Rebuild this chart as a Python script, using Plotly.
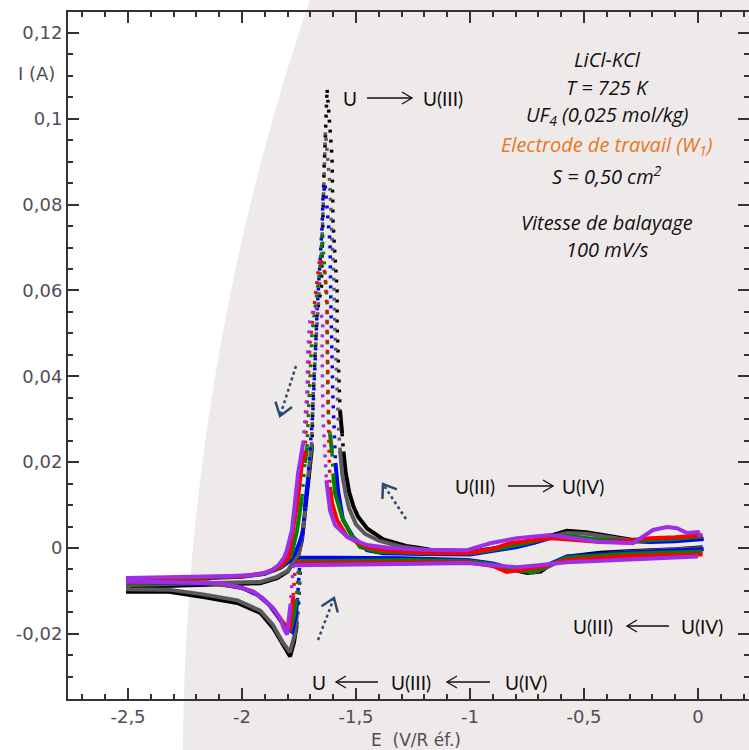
import math
import plotly.graph_objects as go

# ---------------------------------------------------------------
# Cyclic voltammograms of UF4 in LiCl-KCl (E in V vs ref., I in A)
# Each loop: cathodic scan from ~0 V to -2.5 V, then back to ~0 V.
# ---------------------------------------------------------------
BLACK_E = [0.02, -0.1, -0.285, -0.43, -0.575, -0.65, -0.69, -0.75, -0.81, -0.9, -1.01, -1.3, -1.6, -1.742,
           -1.746, -1.752, -1.76, -1.772, -1.789,
           -1.82, -1.864, -1.92, -2.02, -2.17, -2.32, -2.5,
           -2.5, -2.3, -2.1, -1.92, -1.846, -1.80, -1.776, -1.754, -1.737, -1.724,
           -1.711, -1.693, -1.689, -1.68, -1.671, -1.652, -1.649, -1.645, -1.64, -1.636, -1.632, -1.627,
           -1.605, -1.601, -1.592, -1.583, -1.583, -1.579, -1.575, -1.57, -1.561, -1.555,
           -1.545, -1.53, -1.51, -1.49, -1.45, -1.38, -1.28, -1.22, -1.13, -1.0, -0.87, -0.72, -0.65,
           -0.575, -0.49, -0.37, -0.285, -0.14, 0.018]
BLACK_I = [0.0002, -0.0003, -0.0007, -0.0011, -0.002, -0.004, -0.0055, -0.0058, -0.0051, -0.004, -0.0032, -0.0028, -0.003, -0.0032,
           -0.008, -0.013, -0.018, -0.022, -0.0253,
           -0.0226, -0.0186, -0.0151, -0.0128, -0.0114, -0.0102, -0.0102,
           -0.009, -0.0088, -0.0086, -0.0082, -0.007, -0.0055, -0.0035, -0.002, 0.0019, 0.0081,
           0.0158, 0.0235, 0.0344, 0.0444, 0.0547, 0.0607, 0.07, 0.08, 0.0886, 0.0933, 0.0988, 0.107,
           0.091, 0.0763, 0.0677, 0.06, 0.0519, 0.0449, 0.039, 0.032, 0.0267, 0.0225,
           0.0175, 0.013, 0.0095, 0.0072, 0.0045, 0.002, 0.0005, 0.0, -0.0008, -0.0009, 0.0002, 0.0014, 0.0028,
           0.004, 0.0037, 0.0026, 0.0019, 0.0019, 0.0028]

GRAY_E = [0.02, -0.285, -0.575, -0.65, -0.72, -0.81, -0.9, -1.01, -1.3, -1.6, -1.744,
          -1.75, -1.758, -1.768, -1.79,
          -1.823, -1.866, -1.92, -2.02, -2.17, -2.32, -2.5,
          -2.5, -2.3, -2.1, -1.92, -1.85, -1.80, -1.775, -1.752, -1.737, -1.722,
          -1.71, -1.695, -1.688, -1.678, -1.665, -1.652, -1.645, -1.64, -1.634,
          -1.615, -1.605, -1.597, -1.592, -1.586, -1.58, -1.575, -1.57,
          -1.56, -1.545, -1.53, -1.5, -1.46, -1.4, -1.3, -1.2, -1.1, -1.0, -0.87, -0.72, -0.65,
          -0.575, -0.49, -0.37, -0.285, -0.14, 0.018]
GRAY_I = [0.0, -0.0009, -0.0022, -0.0042, -0.0057, -0.005, -0.0039, -0.0031, -0.0029, -0.003, -0.0031,
          -0.009, -0.015, -0.02, -0.0243,
          -0.0218, -0.0178, -0.0146, -0.0122, -0.0108, -0.0097, -0.0096,
          -0.0086, -0.0084, -0.0082, -0.0079, -0.0068, -0.0053, -0.0033, -0.0015, 0.0025, 0.009,
          0.0165, 0.024, 0.036, 0.046, 0.058, 0.068, 0.078, 0.088, 0.097,
          0.085, 0.073, 0.062, 0.05, 0.04, 0.032, 0.0265, 0.0228,
          0.017, 0.0125, 0.0092, 0.0055, 0.0033, 0.0017, 0.0003, -0.0004, -0.001, -0.0011, 0.0, 0.0012, 0.0025,
          0.0035, 0.0033, 0.0024, 0.0017, 0.0018, 0.0026]

BLUE_E = [0.025, -0.285, -0.575, -0.65, -0.72, -0.8, -0.9, -1.01, -1.3, -1.6, -1.745,
          -1.75, -1.757, -1.765, -1.78,
          -1.81, -1.84, -1.88, -1.93, -2.0, -2.1, -2.3, -2.5,
          -2.5, -2.2, -2.0, -1.9, -1.83, -1.79, -1.765, -1.746, -1.732, -1.724,
          -1.711, -1.689, -1.68, -1.671, -1.649, -1.645, -1.636,
          -1.623, -1.614, -1.61, -1.605, -1.601, -1.596, -1.59,
          -1.579, -1.557, -1.513, -1.452, -1.38, -1.2, -1.0, -0.87, -0.794, -0.72, -0.649,
          -0.55, -0.43, -0.285, -0.21, -0.1, 0.025]
BLUE_I = [-0.0003, -0.001, -0.002, -0.0038, -0.0053, -0.005, -0.0036, -0.0028, -0.0024, -0.0023, -0.0023,
          -0.007, -0.012, -0.016, -0.0195,
          -0.0185, -0.0162, -0.0133, -0.011, -0.0093, -0.0084, -0.0081, -0.008,
          -0.0073, -0.0071, -0.0067, -0.006, -0.0046, -0.003, -0.001, 0.0015, 0.004, 0.0095,
          0.0158, 0.032, 0.0425, 0.055, 0.0747, 0.0814, 0.085,
          0.0775, 0.071, 0.056, 0.0414, 0.0344, 0.0279, 0.0198,
          0.0135, 0.0065, 0.0026, -0.0005, -0.0012, -0.0014, -0.0015, -0.0004, 0.0002, 0.0012, 0.0023,
          0.0024, 0.0019, 0.0016, 0.0014, 0.0016, 0.0021]

GREEN_E = [0.02, -0.285, -0.575, -0.65, -0.72, -0.8, -0.9, -1.01, -1.3, -1.6, -1.75,
           -1.755, -1.762, -1.772, -1.787,
           -1.81, -1.835, -1.865, -1.91, -1.95, -2.02, -2.15, -2.3, -2.5,
           -2.5, -2.2, -2.0, -1.9, -1.83, -1.785, -1.759, -1.737,
           -1.724, -1.715, -1.702, -1.693, -1.658, -1.649,
           -1.627, -1.623, -1.623, -1.614, -1.605, -1.6,
           -1.592, -1.561, -1.526, -1.482, -1.408, -1.2, -1.0, -0.87, -0.794, -0.72, -0.649,
           -0.55, -0.43, -0.285, -0.21, -0.1, 0.02]
GREEN_I = [-0.0008, -0.0013, -0.0022, -0.004, -0.0055, -0.0052, -0.0038, -0.003, -0.0028, -0.003, -0.003,
           -0.007, -0.012, -0.016, -0.019,
           -0.018, -0.0163, -0.014, -0.0117, -0.0102, -0.009, -0.0082, -0.008, -0.0082,
           -0.0072, -0.007, -0.0066, -0.006, -0.0045, -0.002, 0.004, 0.0119,
           0.0198, 0.0235, 0.039, 0.05, 0.0653, 0.073,
           0.0577, 0.0395, 0.0326, 0.0267, 0.022, 0.0174,
           0.0128, 0.0072, 0.0035, 0.0002, -0.0009, -0.0012, -0.0013, -0.0002, 0.0006, 0.0015, 0.0025,
           0.0027, 0.0019, 0.0015, 0.0018, 0.0021, 0.0027]

RED_E = [0.02, -0.285, -0.575, -0.7, -0.84, -0.9, -1.01, -1.3, -1.6, -1.765,
         -1.77, -1.775, -1.782, -1.79,
         -1.82, -1.84, -1.865, -1.91, -1.95, -2.02, -2.15, -2.3, -2.5,
         -2.5, -2.2, -2.0, -1.9, -1.83, -1.795, -1.776, -1.754, -1.737, -1.724,
         -1.711, -1.702, -1.667, -1.658,
         -1.636, -1.627, -1.627, -1.626, -1.623, -1.622, -1.618, -1.614,
         -1.605, -1.583, -1.539, -1.452, -1.38, -1.2, -1.013, -0.9, -0.825, -0.649,
         -0.43, -0.3, -0.21, -0.1, 0.02]
RED_I = [-0.0015, -0.0018, -0.0028, -0.0045, -0.0056, -0.0042, -0.0033, -0.0033, -0.0035, -0.0035,
         -0.007, -0.011, -0.015, -0.0186,
         -0.0175, -0.016, -0.014, -0.0117, -0.0102, -0.009, -0.008, -0.0079, -0.008,
         -0.0072, -0.0069, -0.0066, -0.0058, -0.0043, -0.002, 0.0042, 0.0119, 0.0198, 0.022,
         0.0367, 0.0477, 0.064, 0.0677,
         0.064, 0.0558, 0.0507, 0.0453, 0.038, 0.030, 0.022, 0.0142,
         0.0105, 0.0065, 0.0026, 0.0002, -0.0005, -0.0011, -0.0012, -0.0002, 0.0011, 0.0023,
         0.0014, 0.0017, 0.0023, 0.0025, 0.003]

PURPLE_E = [0.0, -0.285, -0.575, -0.7, -0.794, -0.9, -1.01, -1.3, -1.6, -1.775,
            -1.78, -1.787, -1.795, -1.803,
            -1.82, -1.833, -1.864, -1.91, -1.95, -2.02, -2.1, -2.3, -2.5,
            -2.5, -2.2, -2.05, -1.95, -1.88, -1.84, -1.815, -1.803, -1.781, -1.768,
            -1.754, -1.732, -1.715, -1.711, -1.702, -1.68,
            -1.645, -1.649, -1.647, -1.645, -1.636, -1.63,
            -1.622, -1.614, -1.592, -1.539, -1.452, -1.35, -1.2, -1.013, -0.912, -0.794, -0.649,
            -0.43, -0.285, -0.197, -0.136, -0.092, -0.048, 0.0, 0.01]
PURPLE_I = [-0.002, -0.0026, -0.0033, -0.004, -0.0045, -0.004, -0.0035, -0.0037, -0.004, -0.004,
            -0.008, -0.013, -0.017, -0.0202,
            -0.0183, -0.0163, -0.014, -0.0117, -0.0102, -0.009, -0.0082, -0.0079, -0.0078,
            -0.007, -0.0068, -0.0065, -0.0063, -0.0056, -0.004, -0.0022, -0.0005, 0.0042, 0.0105,
            0.0174, 0.0244, 0.036, 0.046, 0.053, 0.0565,
            0.0535, 0.0477, 0.039, 0.0305, 0.022, 0.0158,
            0.0125, 0.0088, 0.0053, 0.0026, 0.0007, 0.0, -0.0004, -0.0005, 0.0011, 0.0023, 0.003,
            0.0014, 0.0011, 0.0042, 0.0049, 0.0046, 0.0035, 0.0037, 0.0026]

X_TICKS = [-2.5, -2.0, -1.5, -1.0, -0.5, 0.0]
X_TICK_TEXT = ["-2,5", "-2", "-1,5", "-1", "-0,5", "0"]
Y_TICKS = [-0.02, 0.0, 0.02, 0.04, 0.06, 0.08, 0.10, 0.12]
Y_TICK_TEXT = ["-0,02", "0", "0,02", "0,04", "0,06", "0,08", "0,1", "0,12"]

SERIES = [
    (BLACK_E, BLACK_I, "#000000"),
    (GRAY_E, GRAY_I, "#5a5a5a"),
    (BLUE_E, BLUE_I, "#0000ff"),
    (GREEN_E, GREEN_I, "#008000"),
    (RED_E, RED_I, "#ff0000"),
    (PURPLE_E, PURPLE_I, "#9b30e8"),
]

X_RANGE = [-2.7632, 0.2237]
Y_RANGE = [-0.03518, 0.12488]

# plot-area geometry in page pixels (used for paper-positioned decorations)
PX_L, PX_R, PY_T, PY_B = 68, 749, 12, 699


def fx(px):
    return (px - PX_L) / (PX_R - PX_L)


def fy(py):
    return (PY_B - py) / (PY_B - PY_T)


def split_runs(E, I, slope_min=0.6, di_min=0.003, peak_level=0.028):
    """Split a loop into polylines: gentle parts (dense samples) and steep / peak parts (sparse samples)."""
    solid_x, solid_y, sparse_x, sparse_y = [], [], [], []
    run_kind, run_x, run_y = None, [], []

    def flush():
        if len(run_x) > 1:
            tx, ty = (sparse_x, sparse_y) if run_kind else (solid_x, solid_y)
            tx.extend(run_x + [None])
            ty.extend(run_y + [None])

    for k in range(len(E) - 1):
        dE = E[k + 1] - E[k]
        dI = I[k + 1] - I[k]
        steep = abs(dI) > di_min and (dE == 0 or abs(dI / dE) > slope_min)
        steep = steep or min(I[k], I[k + 1]) > peak_level
        if steep != run_kind:
            flush()
            run_kind, run_x, run_y = steep, [E[k]], [I[k]]
        run_x.append(E[k + 1])
        run_y.append(I[k + 1])
    flush()
    return solid_x, solid_y, sparse_x, sparse_y


fig = go.Figure()

for E, I, color in SERIES:
    sx, sy, dx, dy = split_runs(E, I)
    fig.add_trace(go.Scatter(x=sx, y=sy, mode="lines", showlegend=False, hoverinfo="skip",
                             line=dict(color=color, width=4)))
    fig.add_trace(go.Scatter(x=dx, y=dy, mode="lines", showlegend=False, hoverinfo="skip",
                             line=dict(color=color, width=3.5, dash="3px,7px")))

# empty trace that carries the top / right tick axes
fig.add_trace(go.Scatter(x=[], y=[], xaxis="x2", yaxis="y2", showlegend=False, hoverinfo="skip"))

shapes = []

# pale disc behind the right part of the figure
cx, cy, R = 2563.8, 767.4, 2381.0
edge = []
for k in range(0, 76):
    py = -2 + k * 10.1
    px = cx - math.sqrt(R * R - (py - cy) ** 2)
    edge.append((px, py))
path = "M " + " L ".join(f"{fx(px):.5f},{fy(py):.5f}" for px, py in edge)
path += f" L {fx(760):.5f},{fy(edge[-1][1]):.5f} L {fx(760):.5f},{fy(-2):.5f} Z"
shapes.append(dict(type="path", path=path, xref="paper", yref="paper", layer="below",
                   fillcolor="#efeaea", line=dict(width=0)))


def text_arrow(x_tail, x_head, y):
    """Thin horizontal arrow with an open head (page pixels)."""
    s = 1 if x_head > x_tail else -1
    shapes.append(dict(type="line", xref="paper", yref="paper",
                       x0=fx(x_tail), y0=fy(y), x1=fx(x_head), y1=fy(y),
                       line=dict(color="#111111", width=1.3)))
    shapes.append(dict(type="path", xref="paper", yref="paper",
                       path=f"M {fx(x_head - s * 10):.5f},{fy(y - 6):.5f} L {fx(x_head):.5f},{fy(y):.5f} "
                            f"L {fx(x_head - s * 10):.5f},{fy(y + 6):.5f}",
                       line=dict(color="#111111", width=1.3)))


def dotted_arrow(x0, y0, x1, y1):
    """Dotted arrow with chevron head from (x0,y0) to (x1,y1) in page pixels."""
    color = "#2c4a6e"
    shapes.append(dict(type="line", xref="paper", yref="paper",
                       x0=fx(x0), y0=fy(y0), x1=fx(x1), y1=fy(y1),
                       line=dict(color=color, width=2.5, dash="dot")))
    ang = math.atan2(y0 - y1, x0 - x1)
    pts = []
    for da in (0.62, -0.62):
        pts.append((x1 + 15 * math.cos(ang + da), y1 + 15 * math.sin(ang + da)))
    shapes.append(dict(type="path", xref="paper", yref="paper",
                       path=f"M {fx(pts[0][0]):.5f},{fy(pts[0][1]):.5f} L {fx(x1):.5f},{fy(y1):.5f} "
                            f"L {fx(pts[1][0]):.5f},{fy(pts[1][1]):.5f}",
                       line=dict(color=color, width=2.5)))


text_arrow(367, 412, 98)
text_arrow(508, 553, 486)
text_arrow(669, 627, 626)
text_arrow(378, 336, 682)
text_arrow(490, 447, 682)

dotted_arrow(296, 366, 280, 416)
dotted_arrow(406, 519, 383, 484)
dotted_arrow(318, 640, 334, 598)

annotations = []


def label(text, px, py, size=19, color="#111111", family="Lato", xanchor="center"):
    annotations.append(dict(text=text, x=fx(px), y=fy(py), xref="paper", yref="paper",
                            xanchor=xanchor, yanchor="middle", showarrow=False,
                            font=dict(family=family, size=size, color=color)))


# reaction labels
label("U", 350, 98)
label("U(III)", 443, 98)
label("U(III)", 475, 486)
label("U(IV)", 583, 486)
label("U(III)", 593, 626)
label("U(IV)", 702, 626)
label("U", 319, 682)
label("U(III)", 411, 682)
label("U(IV)", 526, 682)

# experimental conditions
COND_FONT = "Open Sans"
COND_SIZE = 20
label("<i>LiCl-KCl</i>", 607, 59, size=COND_SIZE, family=COND_FONT)
label("<i>T = 725 K</i>", 607, 88, size=COND_SIZE, family=COND_FONT)
label("<i>UF<sub>4</sub> (0,025 mol/kg)</i>", 607, 116, size=COND_SIZE, family=COND_FONT)
label("<i>Electrode de travail (W<sub>1</sub>)</i>", 606, 146, size=COND_SIZE, color="#e8771e", family=COND_FONT)
label("<i>S = 0,50 cm<sup>2</sup></i>", 607, 175, size=COND_SIZE, family=COND_FONT)
label("<i>Vitesse de balayage</i>", 607, 222, size=COND_SIZE, family=COND_FONT)
label("<i>100 mV/s</i>", 607, 249, size=COND_SIZE, family=COND_FONT)

# axis titles
AX_FONT = "DejaVu Sans"
AX_COLOR = "#4f4d5c"
label("I (A)", 57, 73, size=18, color=AX_COLOR, family=AX_FONT, xanchor="right")
label("E  (V/R éf.)", 416, 740, size=17, color=AX_COLOR, family=AX_FONT)

axis_common = dict(showgrid=False, zeroline=False, ticks="inside", ticklen=11, tickwidth=2,
                   tickcolor="#333333", linecolor="#333333", linewidth=2)

fig.update_layout(
    width=749, height=750,
    margin=dict(l=PX_L, r=749 - PX_R, t=PY_T, b=750 - PY_B, pad=0),
    paper_bgcolor="white", plot_bgcolor="rgba(0,0,0,0)",
    separators=", ",
    xaxis=dict(range=X_RANGE, tickmode="array", tickvals=X_TICKS, ticktext=X_TICK_TEXT,
               showline=True,
               tickfont=dict(family=AX_FONT, size=18, color=AX_COLOR),
               minor=dict(ticks="inside", ticklen=5, tickwidth=1.5, tickcolor="#333333",
                          tickmode="linear", tick0=0, dtick=0.1),
               **axis_common),
    yaxis=dict(range=Y_RANGE, tickmode="array", tickvals=Y_TICKS, ticktext=Y_TICK_TEXT,
               showline=True,
               tickfont=dict(family=AX_FONT, size=18, color=AX_COLOR),
               minor=dict(ticks="inside", ticklen=5, tickwidth=1.5, tickcolor="#333333",
                          tickmode="linear", tick0=0, dtick=0.005),
               **axis_common),
    xaxis2=dict(range=X_RANGE, overlaying="x", side="top", anchor="y2", tickmode="array",
                tickvals=X_TICKS, showticklabels=False, showline=True,
                minor=dict(ticks="inside", ticklen=5, tickwidth=1.5, tickcolor="#333333",
                           tickmode="linear", tick0=0, dtick=0.1),
                **axis_common),
    yaxis2=dict(range=Y_RANGE, overlaying="y", side="right", anchor="x2", tickmode="array",
                tickvals=Y_TICKS, showticklabels=False, showline=False,
                minor=dict(ticks="inside", ticklen=5, tickwidth=1.5, tickcolor="#333333",
                           tickmode="linear", tick0=0, dtick=0.005),
                **axis_common),
    shapes=shapes,
    annotations=annotations,
)

fig.write_html("out.html")
